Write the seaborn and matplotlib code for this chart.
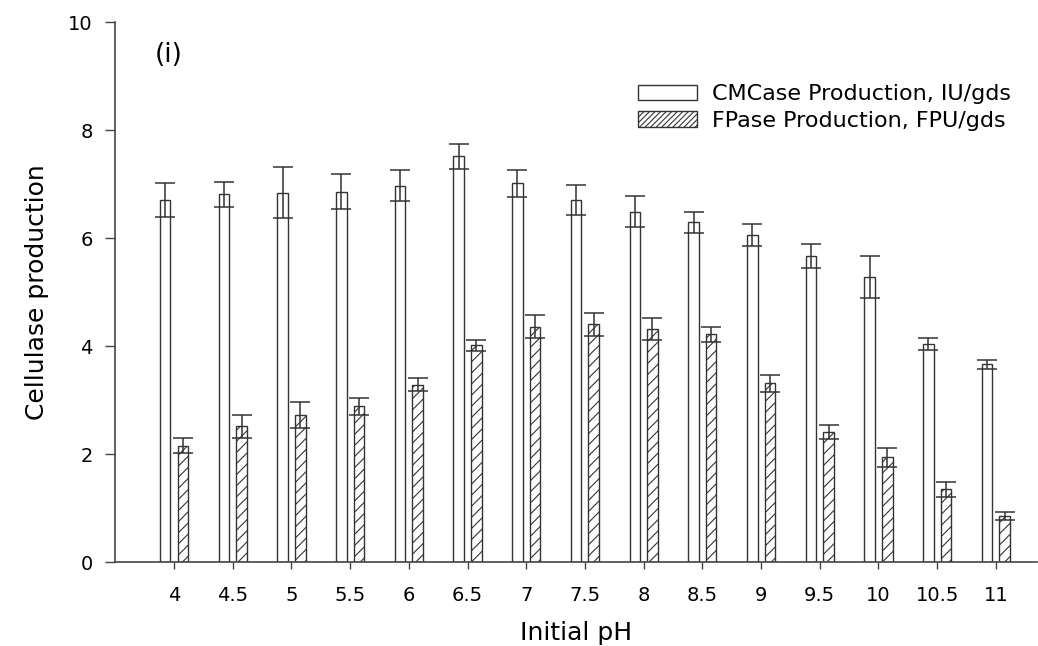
import numpy as np
import pandas as pd
import matplotlib
matplotlib.use("Agg")
import matplotlib.pyplot as plt
from matplotlib.patches import Patch
import seaborn as sns

# ---- data ----
ph_labels = ["4", "4.5", "5", "5.5", "6", "6.5", "7", "7.5", "8", "8.5",
             "9", "9.5", "10", "10.5", "11"]
cmcase = [6.70, 6.81, 6.84, 6.86, 6.97, 7.51, 7.01, 6.70, 6.49, 6.29,
          6.06, 5.67, 5.27, 4.04, 3.66]
cmcase_err = [0.32, 0.23, 0.47, 0.32, 0.29, 0.24, 0.25, 0.28, 0.29, 0.19,
              0.20, 0.22, 0.39, 0.11, 0.09]
fpase = [2.15, 2.51, 2.73, 2.88, 3.28, 4.01, 4.36, 4.40, 4.31, 4.22,
         3.31, 2.41, 1.94, 1.35, 0.85]
fpase_err = [0.14, 0.22, 0.24, 0.16, 0.12, 0.10, 0.21, 0.22, 0.20, 0.14,
             0.16, 0.13, 0.18, 0.14, 0.08]
series_names = ["CMCase Production, IU/gds", "FPase Production, FPU/gds"]

df = pd.DataFrame({
    "pH": ph_labels * 2,
    "enzyme": [series_names[0]] * len(ph_labels) + [series_names[1]] * len(ph_labels),
    "value": cmcase + fpase,
})

sns.set_style("ticks")
plt.rcParams["font.family"] = ["DejaVu Sans"]
plt.rcParams["text.color"] = "black"
plt.rcParams["axes.labelcolor"] = "black"
plt.rcParams["hatch.linewidth"] = 0.8
plt.rcParams["hatch.color"] = "#222222"

fig = plt.figure(figsize=(10.38, 6.46), dpi=100)
ax = fig.add_axes([115 / 1038, 1 - 562 / 646, (1037 - 115) / 1038, 540 / 646])

edge = "#333333"
sns.barplot(data=df, x="pH", y="value", hue="enzyme", order=ph_labels,
            hue_order=series_names, palette=["white", "white"],
            edgecolor=edge, linewidth=1.0, width=0.6, gap=0.4,
            errorbar=None, legend=False, ax=ax)

# hatch the FPase bars
for bar in ax.containers[1]:
    bar.set_hatch("///")

# error bars on top of seaborn bars
for cont, errs in zip(ax.containers, [cmcase_err, fpase_err]):
    xs = [b.get_x() + b.get_width() / 2 for b in cont]
    hs = [b.get_height() for b in cont]
    ax.errorbar(xs, hs, yerr=errs, fmt="none", ecolor=edge, elinewidth=1.1,
                capsize=7.2, capthick=1.1, zorder=5)

ax.set_xlim(-1.005, 14.70)
ax.set_ylim(0, 10)
ax.set_yticks([0, 2, 4, 6, 8, 10])
ax.set_yticklabels(["0", "2", "4", "6", "8", "10"])

sns.despine(ax=ax)
for s in ["left", "bottom"]:
    ax.spines[s].set_color("#444444")
    ax.spines[s].set_linewidth(1.2)

ax.tick_params(axis="x", length=5, width=1.0, color="#444444", pad=12,
               labelsize=14, labelcolor="black")
ax.tick_params(axis="y", length=7, width=1.0, color="#444444", pad=9,
               labelsize=14, labelcolor="black")

ax.set_xlabel("Initial pH", fontsize=18, labelpad=12, color="black")
ax.set_ylabel("Cellulase production", fontsize=18, labelpad=14, color="black")

ax.text(0.043, 0.939, "(i)", transform=ax.transAxes, fontsize=19,
        ha="left", va="center", color="black")

handles = [Patch(facecolor="white", edgecolor=edge, linewidth=1.0),
           Patch(facecolor="white", edgecolor=edge, linewidth=1.0, hatch="//////")]
leg = ax.legend(handles, series_names, loc="upper left",
                bbox_to_anchor=(638 / 1038, 1 - 84 / 646),
                bbox_transform=fig.transFigure, frameon=False, fontsize=16,
                handlelength=2.66, handleheight=0.68, handletextpad=0.68,
                labelspacing=0.3, borderpad=0, borderaxespad=0)
for t in leg.get_texts():
    t.set_color("black")

fig.savefig("out.png", dpi=100)
